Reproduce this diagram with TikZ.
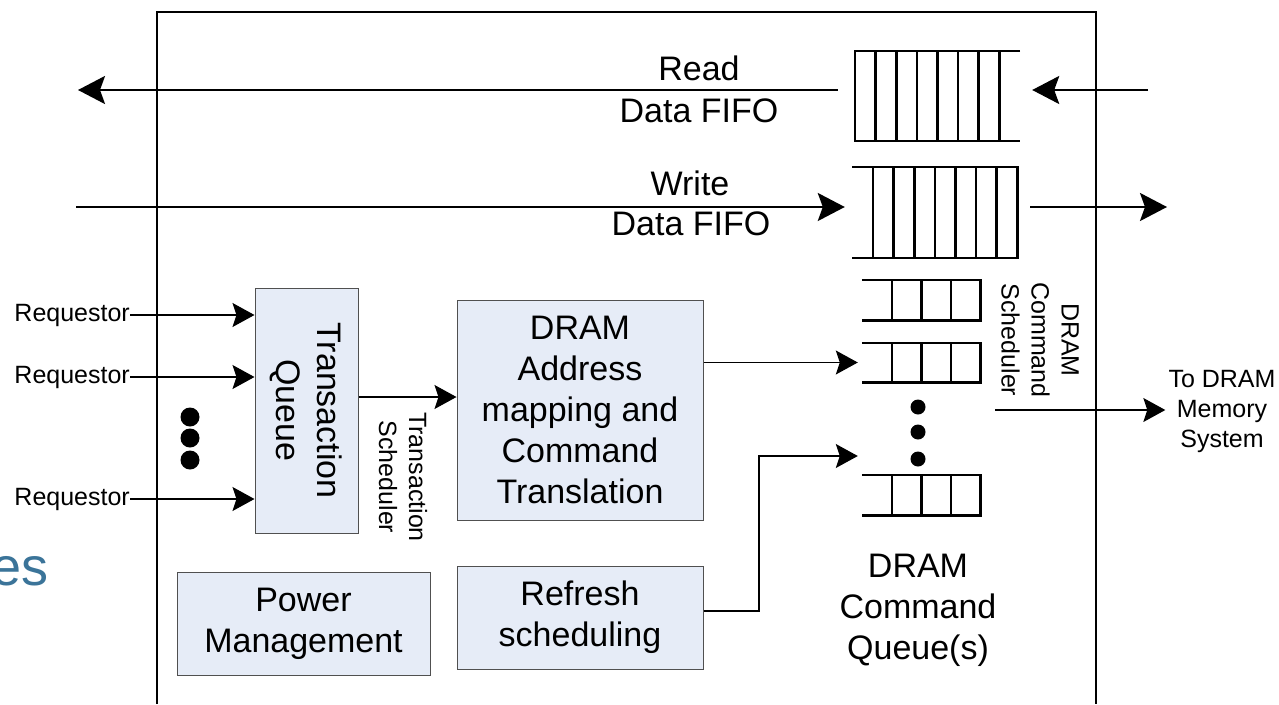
\documentclass[tikz,border=0pt]{standalone}
\usepackage{fontspec}
\setmainfont{Liberation Sans}
\usetikzlibrary{arrows.meta}
\definecolor{boxfill}{HTML}{E6ECF7}
\definecolor{boxline}{HTML}{505050}
\definecolor{titleblue}{HTML}{3B7499}
\begin{document}
\begin{tikzpicture}[x=1pt,y=-1pt,
  blk/.style={draw=boxline, line width=1pt, fill=boxfill, inner sep=0pt, align=center, font=\fontsize{34}{41}\selectfont},
  bigtxt/.style={font=\fontsize{34}{41}\selectfont, align=center, inner sep=0pt},
  smalltxt/.style={font=\fontsize{25}{30}\selectfont, align=center, inner sep=0pt},
  frameline/.style={line width=2.8pt},
  fifoline/.style={line width=2.6pt},
  busline/.style={line width=2.4pt, -{Stealth[length=27pt,width=28pt,inset=5pt]}},
  sigline/.style={line width=1.2pt, -{Stealth[length=22pt,width=24pt,inset=4pt]}},
  dotmark/.style={circle, fill=black, inner sep=0pt},
  slot/.style={inner sep=0pt}
]
\useasboundingbox (0,0) rectangle (1279,704);

% slide title fragment
\node[anchor=base east, inner sep=0pt, text=titleblue, font=\fontsize{54}{60}\selectfont] (ttl) at (49,585) {es};

% outer frame
\coordinate (fbl) at (157,704);
\coordinate (ftl) at (157,12);
\coordinate (ftr) at (1096,12);
\coordinate (fbr) at (1096,704);
\draw[frameline] (fbl) -- (ftl) -- (ftr) -- (fbr);

% ---- Read data FIFO ----
\node[slot, minimum width=165, minimum height=90] (rfifo) at (937.5,96) {};
\draw[fifoline] (1020,51) -- (855,51) -- (855,141) -- (1020,141);
\foreach \k in {1,...,7} \draw[fifoline] (855+20.6*\k,51) -- (855+20.6*\k,141);
\coordinate (rin) at (1148,90);
\coordinate (rout) at (78,90);
\draw[busline] (rin) -- ([xshift=12pt]rfifo.east |- rin);
\draw[busline] ([xshift=-17pt]rfifo.west |- rin) -- (rout);
\node[bigtxt, anchor=base] (rlab1) at (699,80) {Read};
\node[bigtxt, anchor=base] (rlab2) at (699,122) {Data FIFO};

% ---- Write data FIFO ----
\node[slot, minimum width=165, minimum height=91] (wfifo) at (934.5,212.5) {};
\draw[fifoline] (852,167) -- (1017.2,167) -- (1017.2,258) -- (852,258);
\foreach \k in {0,...,6} \draw[fifoline] (873+20.6*\k,167) -- (873+20.6*\k,258);
\coordinate (win) at (76,207);
\coordinate (wout) at (1167,207);
\draw[busline] (win) -- ([xshift=-7pt]wfifo.west |- win);
\draw[busline] ([xshift=13pt]wfifo.east |- win) -- (wout);
\node[bigtxt, anchor=base] (wlab1) at (690,195) {Write};
\node[bigtxt, anchor=base] (wlab2) at (691,235) {Data FIFO};

% ---- blocks ----
\node[blk, minimum width=103, minimum height=245] (tq) at (306.5,410.5) {};
\node[bigtxt, rotate=-90] (tqtxt) at (306.5,410.5) {Transaction\\Queue};
\node[blk, minimum width=246, minimum height=220] (dram) at (580,410) {DRAM\\Address\\mapping and\\Command\\Translation};
\node[blk, minimum width=246, minimum height=103] (ref) at (580,617.5) {Refresh\\scheduling};
\node[blk, minimum width=253, minimum height=103] (pwr) at (303.5,623.5) {Power\\Management};

% ---- requestors ----
\node[smalltxt, anchor=east] (rq1) at (130,315) {Requestor};
\node[smalltxt, anchor=east] (rq2) at (130,377) {Requestor};
\node[smalltxt, anchor=east] (rq3) at (130,499) {Requestor};
\draw[sigline] (rq1.east) -- (tq.west |- rq1.east);
\draw[sigline] (rq2.east) -- (tq.west |- rq2.east);
\draw[sigline] (rq3.east) -- (tq.west |- rq3.east);
\node[dotmark, minimum size=19] (ld1) at (190,417) {};
\node[dotmark, minimum size=19] (ld2) at (190,438) {};
\node[dotmark, minimum size=19] (ld3) at (190,460) {};

% transaction scheduler
\coordinate (ts) at (358,397);
\draw[sigline] (tq.east |- ts) -- (dram.west |- ts);
\node[smalltxt, rotate=-90] (tslab) at (403,477) {Transaction\\Scheduler};

% ---- command queues ----
\node[slot, minimum width=118, minimum height=40] (q1) at (921,300) {};
\node[slot, minimum width=118, minimum height=39] (q2) at (921,362.5) {};
\node[slot, minimum width=118, minimum height=40] (q3) at (921,495) {};
\foreach \q in {q1,q2,q3} {
  \draw[fifoline] (\q.north west) -- (\q.north east) -- (\q.south east) -- (\q.south west);
  \foreach \xx in {892,921.5,951} \draw[fifoline] (\xx,0 |- \q.north) -- (\xx,0 |- \q.south);
}
\node[dotmark, minimum size=15] (cd1) at (918,407) {};
\node[dotmark, minimum size=15] (cd2) at (918,432) {};
\node[dotmark, minimum size=15] (cd3) at (918,459) {};

\draw[sigline] (dram.east |- q2.west) -- ([xshift=-4pt]q2.west);
\coordinate (rb) at (759,456);
\draw[sigline] ([yshift=6.5pt]ref.east) -| (rb) -- ([xshift=-4pt]q3.west |- rb);

\node[smalltxt, rotate=-90] (cslab) at (1040,340) {DRAM\\Command\\Scheduler};
\node[bigtxt] (cqlab) at (918,610) {DRAM\\Command\\Queue(s)};

% ---- output ----
\node[smalltxt] (mem) at (1222,411) {To DRAM\\Memory\\System};
\coordinate (cs) at (995,410);
\draw[sigline] (cs) -- ([xshift=-3pt]mem.west |- cs);
\end{tikzpicture}
\end{document}
